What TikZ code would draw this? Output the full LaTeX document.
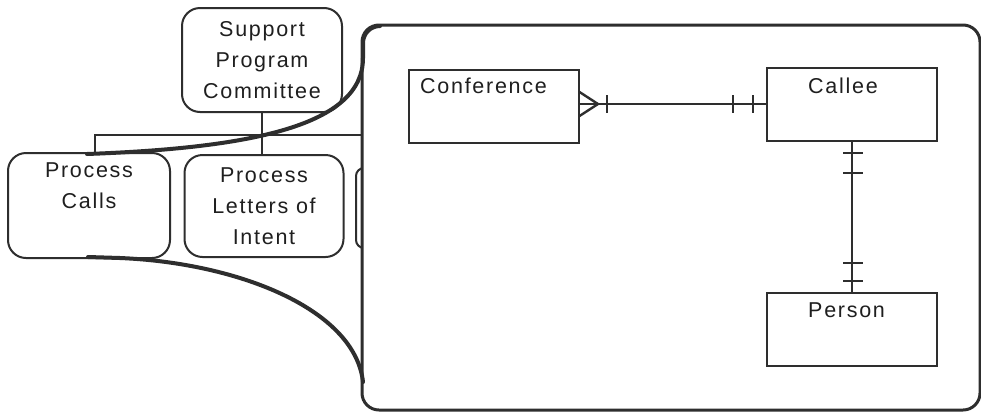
\documentclass[tikz,border=0pt]{standalone}
\usepackage{fontspec}
\setmainfont{Liberation Sans}[LetterSpace=8]
\begin{document}
\begin{tikzpicture}[x=1pt,y=-1pt,
  ink/.style={draw=black!82},
  procbox/.style={ink,line width=2pt,rounded corners=18pt,
    minimum width=#1,align=center,inner sep=0pt,
    font=\fontsize{21.5}{31}\selectfont,text=black!88},
  entity/.style={ink,line width=2pt,rectangle,minimum width=170pt,minimum height=73pt,inner sep=0pt},
  etext/.style={anchor=base west,inner sep=0pt,font=\fontsize{21.5}{25}\selectfont,text=black!88},
  tree/.style={ink,line width=1.8pt},
  rel/.style={ink,line width=2pt},
  tick/.style={ink,line width=1.8pt},
  swoop/.style={ink,line width=4pt,line cap=round}]
\useasboundingbox (0,0) rectangle (981,413);
\fill[white] (0,0) rectangle (981,413);

% process hierarchy
\node[procbox=160pt,minimum height=104pt] (spc) at (262,60)
  {Support\\Program\\Committee};
\node[procbox=162pt,minimum height=105pt] (calls) at (89,205.5)
  {Process\\Calls\\\strut};
\node[procbox=159pt,minimum height=102pt] (letters) at (264,206)
  {Process\\Letters of\\Intent};
\node[procbox=64pt,minimum height=80pt,rounded corners=8pt] (hidden) at (388,208) {};

\coordinate (barL) at (95,135);
\coordinate (barR) at (362,135);
\draw[tree] (spc.south) -- (spc.south |- letters.north);
\draw[tree] (calls.north -| barL) -- (barL) -- (barR);

% expanded view of the selected process
\node[ink,fill=white,line width=3pt,rounded corners=17pt,rectangle,
  minimum width=618pt,minimum height=385pt,inner sep=0pt] (view) at (671,217.5) {};

% swoops joining the process to its expanded view
\coordinate (topL) at (87,154);
\coordinate (topR) at (363,58);
\coordinate (botL) at (88,257);
\coordinate (botR) at (363,382);
\draw[swoop] (topL) .. controls (250,148) and (363,126) .. (topR)
  -- (363,43) to[out=90,in=180] (380,26);
\draw[swoop] (botL) -- (120,258) .. controls (240,263) and (355,310) .. (botR);

% entities
\node[entity] (conf) at (493.5,106.5) {};
\node[entity] (callee) at (852,104) {};
\node[entity] (person) at (852,329) {};
\node[etext] (conft) at (420,93) {Conference};
\node[etext] (calleet) at (808,93) {Callee};
\node[etext] (persont) at (808,317) {Person};

% Conference (many) -- (one and only one) Callee
\coordinate (cfA) at (conf.east |- 0,104);
\coordinate (clA) at (callee.west |- 0,104);
\draw[rel] (cfA) -- (clA);
\coordinate (crow) at (598,104);
\draw[rel,line width=2.4pt] (conf.east |- 0,92) -- (crow) -- (conf.east |- 0,116);
\draw[tick] (607,95) -- (607,113);
\draw[tick] (733,95) -- (733,113);
\draw[tick] (753,95) -- (753,113);

% Callee (one and only one) -- (one and only one) Person
\draw[rel] (callee.south) -- (person.north);
\draw[tick] (843,153) -- (863,153);
\draw[tick] (843,173) -- (863,173);
\draw[tick] (843,263) -- (863,263);
\draw[tick] (843,281) -- (863,281);
\end{tikzpicture}
\end{document}
